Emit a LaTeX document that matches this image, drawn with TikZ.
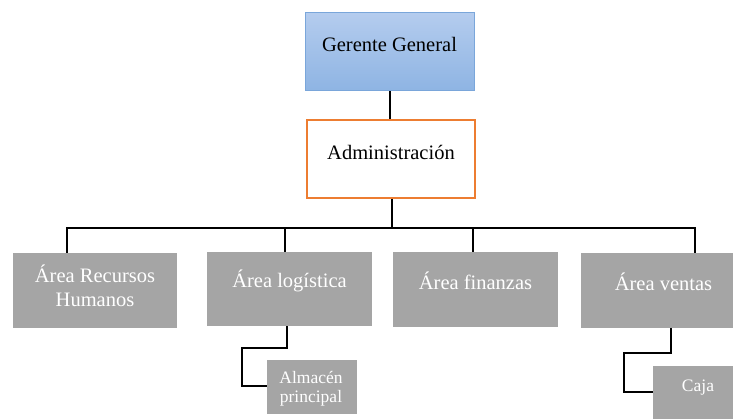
\documentclass[tikz,border=0pt]{standalone}
\usepackage{fontspec}
\setmainfont{Liberation Serif}
\newfontfamily\boxfont{Liberation Serif}
\begin{document}
\begin{tikzpicture}[x=1pt,y=-1pt,
  basebox/.style={rectangle, inner sep=0pt},
  topbox/.style={basebox, draw={rgb,255:red,122;green,166;blue,218}, line width=1pt,
    top color={rgb,255:red,180;green,204;blue,238}, bottom color={rgb,255:red,142;green,180;blue,227}},
  orangebox/.style={basebox, draw={rgb,255:red,237;green,125;blue,49}, line width=1.8pt, fill=white},
  graybox/.style={basebox, fill={rgb,255:red,165;green,165;blue,165}},
  bigtext/.style={font=\boxfont\fontsize{20.5}{24}\selectfont, align=center, inner sep=0pt},
  smalltext/.style={font=\boxfont\fontsize{17.5}{18.5}\selectfont, align=center, inner sep=0pt, text=white},
  wire/.style={draw=black, line width=2pt}
]
\useasboundingbox (0,0) rectangle (733,419);
\clip (0,0) rectangle (733,419);
\fill[white] (0,0) rectangle (733,419);

% boxes
\node[topbox, minimum width=169pt, minimum height=78pt] (gg) at (389.5,52) {};
\node[orangebox, minimum width=168pt, minimum height=78pt] (adm) at (391,159) {};
\node[graybox, minimum width=164pt, minimum height=75pt] (rrhh) at (95,290.5) {};
\node[graybox, minimum width=165pt, minimum height=74pt] (log) at (289.5,289) {};
\node[graybox, minimum width=165pt, minimum height=75pt] (fin) at (475.5,289.5) {};
\node[graybox, minimum width=165pt, minimum height=75pt] (ven) at (663.5,290.5) {};
\node[graybox, minimum width=90pt, minimum height=54pt] (alm) at (312,387) {};
\node[graybox, minimum width=90pt, minimum height=54pt] (caja) at (698,393) {};

% labels
\node[bigtext] (ggt) at (389.5,44) {Gerente General};
\node[bigtext] (admt) at (391,152) {Administración};
\node[bigtext, text=white] (rrhht) at (95,286) {Área Recursos\\Humanos};
\node[bigtext, text=white] (logt) at (289.5,281) {Área logística};
\node[bigtext, text=white] (fint) at (475.5,281) {Área finanzas};
\node[bigtext, text=white] (vent) at (663.5,282) {Área ventas};
\node[smalltext] (almt) at (311,389) {Almacén\\principal};
\node[smalltext] (cajat) at (698,388) {Caja};

% bus line
\coordinate (busL) at (67,228);
\coordinate (busR) at (695,228);

% connectors
\draw[wire] (gg.south) -- (gg.south |- adm.north);
\draw[wire] ([xshift=1pt]adm.south) -- ([xshift=1pt]adm.south |- busL);
\draw[wire] (busL |- rrhh.north) -- (busL) -- (busR) -- (busR |- ven.north);
\draw[wire] ([xshift=-4.5pt]log.north) -- ([xshift=-4.5pt]log.north |- busL);
\draw[wire] ([xshift=-2.5pt]fin.north) -- ([xshift=-2.5pt]fin.north |- busL);
\draw[wire] ([xshift=-2.5pt]log.south) -- ++(0,22) -| (242,386) -- (alm.west |- 0,386);
\draw[wire] (671,328) -- (671,353) -| (624,392) -- (caja.west |- 0,392);
\end{tikzpicture}
\end{document}
